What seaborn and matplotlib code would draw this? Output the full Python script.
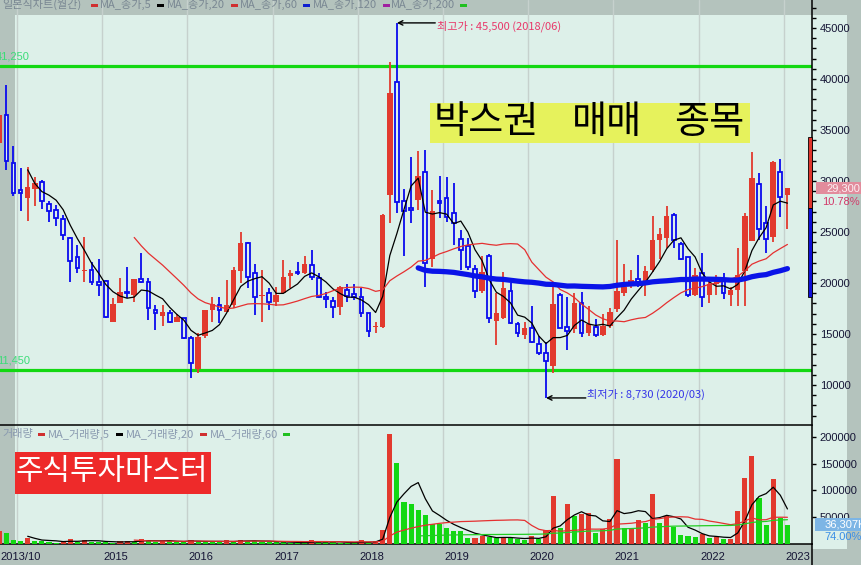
import numpy as np
import pandas as pd
import matplotlib
matplotlib.use("Agg")
import matplotlib.pyplot as plt
import matplotlib.transforms as mtransforms
from matplotlib.patches import Rectangle
from matplotlib.ticker import MultipleLocator, FixedLocator, FuncFormatter
import seaborn as sns

# 월봉 데이터 (2013/10 ~ 2023/01), 그림에서 읽은 값
start_month = "2013-10"

open_ = [33700, 36500, 31800, 29100, 28300, 29250, 29900, 27750, 27150, 26250,
         24400, 22500, 21150, 21250, 20050, 20200, 16200, 18050, 19100, 18800,
         20350, 20050, 17400, 16800, 17050, 16200, 16550, 14600, 11550, 14850,
         17350, 17800, 17200, 17800, 21200, 23900, 20950, 18700, 19000, 18150,
         19050, 20700, 21100, 20950, 21750, 20450, 18650, 18200, 17600, 19300,
         18900, 18650, 17050, 15700, 15700, 28600, 39750, 28050, 27400, 28150,
         30900, 22400, 28050, 28300, 26900, 24300, 23600, 21350, 19200, 22600,
         16300, 16600, 19250, 15950, 14950, 15550, 14000, 13100, 11850, 18800,
         15650, 15450, 18050, 15050, 15650, 14900, 15800, 17450, 19050, 19950,
         20350, 20150, 21250, 24200, 24450, 26650, 23800, 22500, 18800, 20950,
         18800, 19900, 20150, 18800, 19300, 21200, 24100, 29750, 25900, 24500,
         30900, 28650]

high = [37000, 39400, 33400, 31300, 31400, 30400, 30100, 28050, 27650, 26700,
        24500, 23700, 24500, 22100, 22400, 20300, 18500, 20450, 21600, 20400,
        22900, 20500, 17850, 17850, 17400, 16950, 16600, 14800, 15050, 17350,
        18650, 18600, 20300, 21600, 25000, 24000, 21850, 21250, 19500, 19600,
        22250, 21250, 22100, 22650, 23250, 20950, 19150, 18650, 19700, 19950,
        19900, 19500, 17100, 16200, 26800, 41700, 45500, 29200, 32400, 32900,
        33000, 29100, 30500, 30400, 29800, 25200, 24400, 21750, 22600, 22800,
        19000, 21100, 20000, 16200, 16200, 17700, 14800, 14250, 20000, 19000,
        18650, 19000, 19150, 17700, 16500, 17000, 17500, 24200, 21900, 21250,
        22750, 21650, 26550, 25350, 27500, 26900, 24050, 22500, 21500, 22900,
        20450, 20800, 20950, 19600, 23400, 26900, 32800, 30750, 27500, 32000,
        32200, 29300]

low = [33200, 31100, 28500, 27100, 26100, 27500, 27300, 26000, 25600, 24200,
       20100, 21000, 20050, 19800, 18750, 16600, 16200, 18000, 18500, 18150,
       20000, 16350, 15400, 15800, 16050, 16150, 14550, 10650, 11150, 14600,
       16200, 16100, 17200, 17500, 20000, 19500, 16850, 16200, 17350, 17750,
       19000, 19500, 20800, 20900, 20300, 18500, 17500, 16550, 16850, 18150,
       18350, 16650, 14750, 15050, 15550, 25900, 26850, 22650, 25900, 27150,
       19650, 21600, 26350, 26000, 23750, 21250, 21300, 18500, 19000, 16050,
       13900, 16500, 15950, 14700, 14500, 14100, 12950, 8730, 11150, 15600,
       13450, 15050, 14700, 14800, 14750, 14800, 15600, 17200, 18700, 19500,
       19650, 18750, 21100, 22400, 23400, 23400, 22300, 18650, 18700, 17600,
       18050, 18800, 18400, 17700, 17700, 17700, 24100, 24200, 22950, 24050,
       26450, 25250]

close = [36500, 32000, 28800, 28800, 29400, 29800, 28000, 27050, 26350, 24700,
         22200, 21450, 21250, 20050, 19850, 16650, 17950, 19100, 19000, 20400,
         20100, 17500, 17100, 17150, 16200, 16700, 14600, 12150, 14700, 17350,
         17950, 17400, 17800, 21250, 23900, 20550, 18650, 18750, 18100, 18850,
         20550, 21000, 21000, 21850, 20550, 18650, 18450, 17600, 19600, 18750,
         18650, 17100, 15300, 15750, 26650, 38650, 27950, 27100, 27200, 30500,
         21950, 27050, 27800, 26450, 25850, 23200, 21600, 19200, 21050, 16550,
         17100, 19500, 16050, 15050, 15550, 14200, 13100, 12400, 17950, 15600,
         15250, 18000, 15050, 16000, 14900, 15800, 17150, 19200, 19650, 20300,
         20050, 21200, 24200, 24800, 26550, 24200, 22400, 18800, 20800, 18600,
         19900, 20300, 19000, 19300, 20800, 26550, 30250, 25250, 24300, 31900,
         28400, 29300]

volume = [25000, 21000, 8000, 6000, 12000, 6000, 5000, 4000, 2500, 5000,
          9000, 4500, 8000, 4500, 4000, 3000, 2000, 5000, 6500, 4500,
          9500, 6000, 3500, 6500, 6000, 4000, 3500, 8000, 5000, 4000,
          3900, 3500, 7000, 4500, 8000, 5500, 5000, 4500, 4000, 3500,
          3000, 2500, 2000, 1800, 7500, 4000, 3500, 3000, 2500, 2000,
          1800, 7000, 3000, 6000, 27000, 205000, 151000, 79000, 75000, 62500,
          54500, 37500, 37000, 29300, 25000, 24500, 10500, 11000, 14300, 12400,
          11300, 12000, 11000, 8600, 8000, 15600, 9000, 26300, 88700, 29000,
          73700, 53100, 56300, 57000, 21200, 28100, 46900, 158000, 29300, 30500,
          45600, 38700, 92500, 38700, 51800, 32500, 17500, 15600, 12400, 18800,
          11300, 12400, 8600, 9400, 61200, 123000, 164000, 85500, 36200, 120600,
          48000, 36307]

box_lines = [41250, 11450]
range_bar = [34350, 27330, 18600]
last_pct = "10.78%"
last_vol_pct = "74.00%"

sns.set_theme(style="white")
plt.rcParams["font.family"] = ["Noto Sans CJK KR", "DejaVu Sans"]
NUM = "Liberation Sans"

GRAY = "#B4C3BD"
LIGHT = "#DDF0E9"
RED = "#E23A2E"
BLUE = "#0A0AEE"
GREEN = "#12D812"

df = pd.DataFrame({"open": open_, "high": high, "low": low,
                   "close": close, "volume": volume})
df["month"] = pd.period_range(start_month, periods=len(df), freq="M")
df["i"] = np.arange(len(df))
df["ma5"] = df["close"].rolling(5).mean()
df["ma20"] = df["close"].rolling(20).mean()
df["ma60"] = df["close"].rolling(60).mean()
df["vma5"] = df["volume"].rolling(5).mean()
df["vma20"] = df["volume"].rolling(20).mean()
df["vma60"] = df["volume"].rolling(60).mean()
up = (df["close"] >= df["open"]).values
vol_up = (df["volume"].diff().fillna(1) > 0).values

jan = df[df["month"].dt.month == 1]
year_lines = (jan["i"] - 0.5).tolist()
year_names = jan["month"].dt.year.astype(str).tolist()

W, H = 862, 565


def fig_rect(x0, y0, x1, y1):
    return [x0 / W, 1 - y1 / H, (x1 - x0) / W, (y1 - y0) / H]


fig = plt.figure(figsize=(8.62, 5.65), dpi=100)
fig.patch.set_facecolor(GRAY)

# 배경
bg = fig.add_axes(fig_rect(0, 0, W, H), zorder=0)
bg.set_xlim(0, W)
bg.set_ylim(H, 0)
bg.axis("off")
bg.add_patch(Rectangle((15, 15), 832, 529, color=LIGHT, lw=0))
bg.add_patch(Rectangle((812, 15), 35, 534, color=LIGHT, lw=0))

ax = fig.add_axes(fig_rect(0, 0, 812, 425), zorder=1)
vax = fig.add_axes(fig_rect(0, 426, 812, 544), zorder=1)
xlim = (0.1, 114.46)

for a in (ax, vax):
    a.set_facecolor("none")
    for x in year_lines:
        a.axvline(x, color="#C6D1CD", lw=1.0, zorder=1)

# 박스권 라인
for lvl in box_lines:
    ax.axhline(lvl, color=GREEN, lw=2.3, zorder=2)

# 캔들
body_lo = np.minimum(df["open"], df["close"]).values
body_h = np.maximum((df["close"] - df["open"]).abs().values, 120)
ax.vlines(df["i"], df["low"], df["high"], colors=np.where(up, RED, BLUE),
          lw=1.3, zorder=3)
ax.bar(df["i"][up], body_h[up], bottom=body_lo[up], width=0.78,
       color=RED, lw=0, zorder=4)
ax.bar(df["i"][~up], body_h[~up], bottom=body_lo[~up], width=0.52,
       facecolor=LIGHT, edgecolor=BLUE, lw=1.3, zorder=4)

sns.lineplot(data=df, x="i", y="ma5", ax=ax, color="black", lw=0.9,
             errorbar=None, zorder=5)
sns.lineplot(data=df, x="i", y="ma20", ax=ax, color="#E53030", lw=0.9,
             errorbar=None, zorder=5)
sns.lineplot(data=df, x="i", y="ma60", ax=ax, color="#0A14E8", lw=3.8,
             errorbar=None, zorder=5)

# 거래량
vax.bar(df["i"], df["volume"], width=0.72, color=np.where(vol_up, RED, GREEN),
        lw=0, zorder=3)
sns.lineplot(data=df, x="i", y="vma5", ax=vax, color="black", lw=0.9,
             errorbar=None, zorder=5)
sns.lineplot(data=df, x="i", y="vma20", ax=vax, color="#E53030", lw=0.9,
             errorbar=None, zorder=5)
sns.lineplot(data=df, x="i", y="vma60", ax=vax, color="#22CC22", lw=0.9,
             errorbar=None, zorder=5)

# 축
ax.set_xlim(*xlim)
ax.set_ylim(6078, 47745)
vax.set_xlim(*xlim)
vax.set_ylim(0, 220000)
fmt = FuncFormatter(lambda v, _: f"{v:.0f}")
for a in (ax, vax):
    a.set_xlabel("")
    a.set_ylabel("")
    a.yaxis.tick_right()
    a.yaxis.set_major_formatter(fmt)
    a.tick_params(axis="y", which="both", direction="out", length=2.6,
                  width=1, color="black", labelsize=8, labelcolor="#151535",
                  pad=3, labelfontfamily=NUM)
    for s in ("top", "left"):
        a.spines[s].set_visible(False)
    for s in ("right", "bottom"):
        a.spines[s].set_color("black")
        a.spines[s].set_linewidth(1.1)
ax.yaxis.set_major_locator(MultipleLocator(5000))
ax.yaxis.set_minor_locator(MultipleLocator(1000))
ax.tick_params(axis="x", which="both", length=0, labelbottom=False)
vax.yaxis.set_major_locator(FixedLocator([50000, 100000, 150000, 200000]))
vax.set_xticks(year_lines[1:])
vax.tick_params(axis="x", direction="out", length=15, width=1.1,
                color="black", labelbottom=False)

xt = vax.get_xaxis_transform()
first = df["month"].iloc[0]
vax.text(xlim[0], -0.11, f"{first.year}/{first.month:02d}", transform=xt,
         ha="left", va="center", fontsize=8, family=NUM, color="#151535")
for x, name in zip(year_lines[1:], year_names[1:]):
    vax.text(x + 0.2, -0.11, name, transform=xt, ha="left", va="center",
             fontsize=8, family=NUM, color="#151535")

# 최고가 / 최저가
hi_i = int(df["high"].idxmax())
lo_i = int(df["low"].idxmin())
hi_v = df["high"].max()
lo_v = df["low"].min()
ax.annotate("", xy=(hi_i, hi_v), xytext=(hi_i + 5.4, hi_v),
            arrowprops=dict(arrowstyle="->", color="black", lw=1,
                            shrinkA=0, shrinkB=0, mutation_scale=8), zorder=6)
ax.text(hi_i + 5.65, hi_v - 330,
        f"최고가 : {hi_v:,} ({df['month'][hi_i].strftime('%Y/%m')})",
        color="#E8386A", fontsize=8, ha="left", va="center", zorder=6)
ax.annotate("", xy=(lo_i, lo_v), xytext=(lo_i + 5.6, lo_v),
            arrowprops=dict(arrowstyle="->", color="black", lw=1,
                            shrinkA=0, shrinkB=0, mutation_scale=8), zorder=6)
ax.text(lo_i + 5.8, lo_v + 400,
        f"최저가 : {lo_v:,} ({df['month'][lo_i].strftime('%Y/%m')})",
        color="#3535E8", fontsize=8, ha="left", va="center", zorder=6)

# 박스 상하단 값
for lvl in box_lines:
    ax.text(30 / 812, lvl + 950, f"{lvl:,}", transform=ax.get_yaxis_transform(),
            ha="right", va="center", fontsize=8, family=NUM, color="#3CDC78",
            zorder=6)

# 우측 가격 표시
ty = mtransforms.blended_transform_factory(ax.transAxes, ax.transData)
ax.add_patch(Rectangle((808 / 812, range_bar[1]), 4 / 812,
                       range_bar[0] - range_bar[1], transform=ty,
                       facecolor="#E0352C", edgecolor="black", lw=0.6,
                       clip_on=False, zorder=6))
ax.add_patch(Rectangle((808 / 812, range_bar[2]), 4 / 812,
                       range_bar[1] - range_bar[2], transform=ty,
                       facecolor="#1010D8", edgecolor="black", lw=0.6,
                       clip_on=False, zorder=6))
last = df["close"].iloc[-1]
ax.add_patch(Rectangle((816 / 812, last - 600), 46 / 812, 1200, transform=ty,
                       color="#E28C9C", lw=0, clip_on=False, zorder=6))
ax.text(860 / 812, last, f"{last:,}", transform=ty, ha="right", va="center",
        fontsize=8, family=NUM, color="#FBF0F3", clip_on=False, zorder=7)
ax.text(860 / 812, last - 1400, last_pct, transform=ty, ha="right",
        va="center", fontsize=8, family=NUM, color="#D23A6A", clip_on=False,
        zorder=7)

tv = mtransforms.blended_transform_factory(vax.transAxes, vax.transData)
lv = df["volume"].iloc[-1]
vax.add_patch(Rectangle((815 / 812, lv - 12100), 47 / 812, 24200, transform=tv,
                        color="#7DB5E5", lw=0, clip_on=False, zorder=6))
vax.text(825 / 812, lv, f"{lv:,}K", transform=tv, ha="left", va="center",
         fontsize=8, family=NUM, color="white", clip_on=False, zorder=7)
vax.text(862 / 812, lv - 23300, last_vol_pct, transform=tv, ha="right",
         va="center", fontsize=8, family=NUM, color="#3A8EE6", clip_on=False,
         zorder=7)

# 오버레이 (범례, 문구)
ov = fig.add_axes(fig_rect(0, 0, W, H), zorder=5)
ov.set_xlim(0, W)
ov.set_ylim(H, 0)
ov.axis("off")
ov.patch.set_alpha(0)
ov.plot([812, 812], [544, 565], color="black", lw=1.1)

top_legend = [("일본식차트(월간)", 2, 91, "#D03030"),
              ("MA_종가,5", 100, 157, "black"),
              ("MA_종가,20", 167, 231, "#D03030"),
              ("MA_종가,60", 240, 303, "#1020D0"),
              ("MA_종가,120", 313, 383, "#A020A0"),
              ("MA_종가,200", 391, 460, "#20C020")]
for txt, tx, dx, col in top_legend:
    ov.text(tx, 4.5, txt, fontsize=8, color="#7A8893", ha="left", va="center")
    ov.add_patch(Rectangle((dx, 3.5), 7, 3, color=col, lw=0))

vol_legend = [("거래량", 2, 38, "#D03030"),
              ("MA_거래량,5", 48, 116, "black"),
              ("MA_거래량,20", 126, 200, "#D03030"),
              ("MA_거래량,60", 210, 283, "#20C020")]
for txt, tx, dx, col in vol_legend:
    ov.text(tx, 434, txt, fontsize=8, color="#8A9AB0", ha="left", va="center")
    ov.add_patch(Rectangle((dx, 432.5), 7, 3, color=col, lw=0))

ov.add_patch(Rectangle((430, 103), 320, 40, color="#E6F25C", lw=0))
for word, wx in [("박스권", 434), ("매매", 572), ("종목", 674)]:
    ov.text(wx, 123, word, fontsize=27.5, color="black", ha="left",
            va="center")

ov.add_patch(Rectangle((15, 452), 196, 42, color="#EE2A2A", lw=0))
ov.text(16, 471, "주식투자마스터", fontsize=21.5, color="white", ha="left",
        va="center")

plt.savefig("out.png", dpi=100, facecolor=fig.get_facecolor())
